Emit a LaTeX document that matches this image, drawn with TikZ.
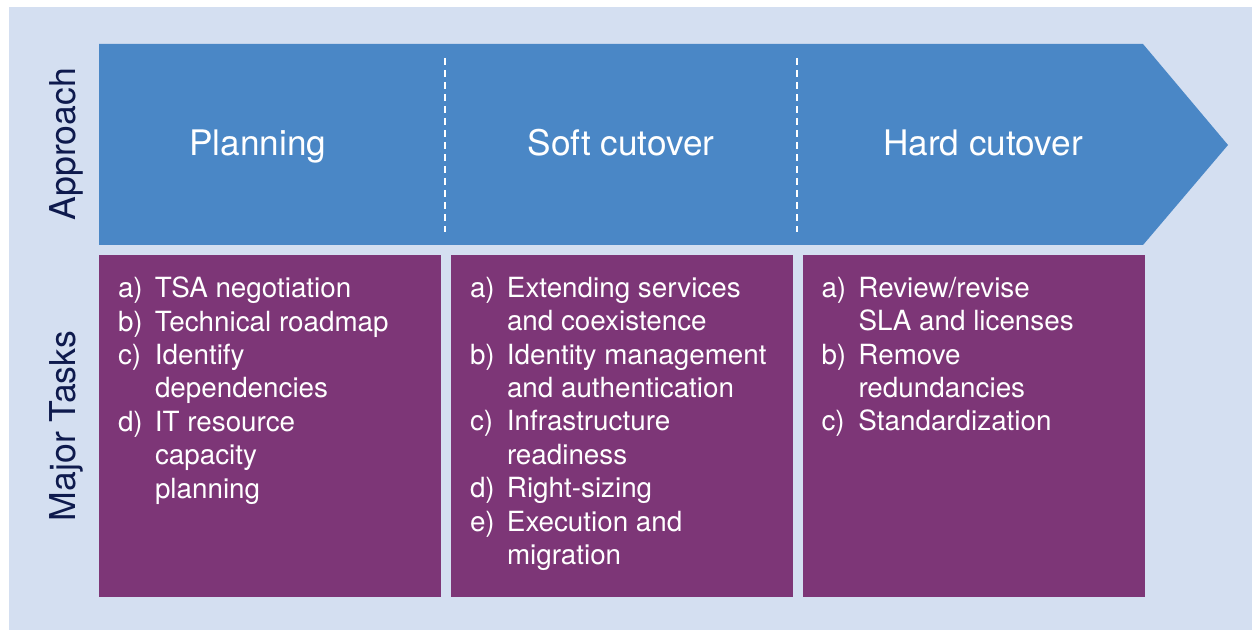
\documentclass[tikz,border=0pt]{standalone}
\usepackage{fontspec}
\setmainfont{TeX Gyre Heros}
\usetikzlibrary{positioning}

\definecolor{bgblue}{HTML}{D4DFF1}
\definecolor{phaseblue}{HTML}{4A87C6}
\definecolor{taskpurple}{HTML}{7D3677}
\definecolor{labelnavy}{HTML}{0E1A4D}

\newcommand{\taskitem}[2]{\makebox[18.5pt][l]{#1}#2}
\newcommand{\taskcont}[1]{\hspace*{18.5pt}#1}

\tikzset{
	phase/.style={text=white, font=\fontsize{17.6}{21}\selectfont, anchor=base},
	sidelabel/.style={text=labelnavy, font=\fontsize{17.8}{20}\selectfont, rotate=90},
	taskbox/.style={fill=taskpurple, minimum width=171pt, minimum height=171pt, inner sep=0pt},
	tasklist/.style={text=white, align=left, inner sep=0pt, anchor=north west,
		font=\fontsize{13.9}{16.7}\selectfont},
}

\begin{document}
\begin{tikzpicture}[x=0.5pt, y=-0.5pt]
		\useasboundingbox (0,0) rectangle (1252,630);
		\fill[bgblue] (9,7) rectangle (1252,630);

		% Pfeil mit den drei Phasen
		\fill[phaseblue] (99,44) -- (1143,44) -- (1228,145) -- (1143,245) -- (99,245) -- cycle;
		\draw[white, line width=0.7pt, dash pattern=on 3.5pt off 2.5pt] (445,58) -- (445,232);
		\draw[white, line width=0.7pt, dash pattern=on 3.5pt off 2.5pt] (797,58) -- (797,232);

		\node[phase] (planning) at (258,156) {Planning};
		\node[phase] (soft) at (621,156) {Soft cutover};
		\node[phase] (hard) at (983,156) {Hard cutover};

		\node[sidelabel] (approach) at (66,144) {Approach};
		\node[sidelabel] (tasks) at (66,426) {Major Tasks};

		% Aufgaben je Phase
		\node[taskbox] (planbox) at (270,426) {};
		\node[taskbox] (softbox) at (622,426) {};
		\node[taskbox] (hardbox) at (973.5,426) {};

		\node[tasklist] (plantasks) at ([xshift=9.5pt, yshift=-11pt]planbox.north west) {%
			\taskitem{a)}{TSA negotiation}\\
			\taskitem{b)}{Technical roadmap}\\
			\taskitem{c)}{Identify}\\
			\taskcont{dependencies}\\
			\taskitem{d)}{IT resource}\\
			\taskcont{capacity}\\
			\taskcont{planning}};
		\node[tasklist] (softtasks) at ([xshift=9.5pt, yshift=-11pt]softbox.north west) {%
			\taskitem{a)}{Extending services}\\
			\taskcont{and coexistence}\\
			\taskitem{b)}{Identity management}\\
			\taskcont{and authentication}\\
			\taskitem{c)}{Infrastructure}\\
			\taskcont{readiness}\\
			\taskitem{d)}{Right-sizing}\\
			\taskitem{e)}{Execution and}\\
			\taskcont{migration}};
		\node[tasklist] (hardtasks) at ([xshift=9.5pt, yshift=-11pt]hardbox.north west) {%
			\taskitem{a)}{Review/revise}\\
			\taskcont{SLA and licenses}\\
			\taskitem{b)}{Remove}\\
			\taskcont{redundancies}\\
			\taskitem{c)}{Standardization}};
	\end{tikzpicture}
\end{document}
